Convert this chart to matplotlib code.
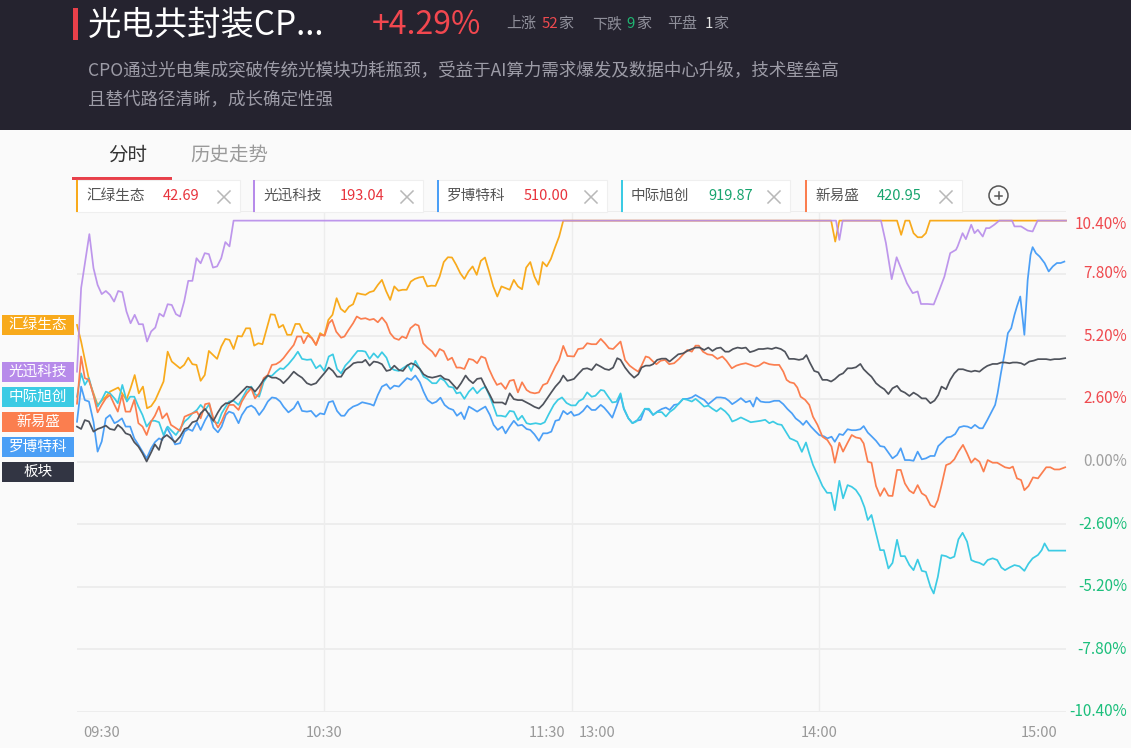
import matplotlib
matplotlib.use("Agg")
import matplotlib.pyplot as plt
from matplotlib.patches import Rectangle, Ellipse
from matplotlib.lines import Line2D
from matplotlib.transforms import blended_transform_factory, offset_copy

plt.rcParams['font.family'] = ['Noto Sans CJK SC', 'DejaVu Sans']

# ---------------- data ----------------
title = "光电共封装CP..."
change_text = "+4.29%"
desc_lines = ["CPO通过光电集成突破传统光模块功耗瓶颈，受益于AI算力需求爆发及数据中心升级，技术壁垒高",
              "且替代路径清晰，成长确定性强"]
counts = [("上涨", "52", "家"), ("下跌", "9", "家"), ("平盘", "1", "家")]
tabs = ["分时", "历史走势"]

names = ["汇绿生态", "光迅科技", "罗博特科", "中际旭创", "新易盛"]
prices = ["42.69", "193.04", "510.00", "919.87", "420.95"]
price_up = [True, True, True, False, False]

ytick_vals = [10.40, 7.80, 5.20, 2.60, 0.00, -2.60, -5.20, -7.80, -10.40]
xtick_min = [0, 60, 120, 120, 180, 240]
xtick_lab = ["09:30", "10:30", "11:30", "13:00", "14:00", "15:00"]

# minutes since 09:30 (trading minutes), percent change
huilv_t = [0, 1, 3, 5, 7, 8, 10, 12, 13, 14, 15, 16, 17, 18, 19, 21, 22, 23, 25, 26, 27, 28, 29, 30, 31, 32, 34,
           35, 36, 37, 38, 39, 40, 41, 42, 43, 44, 45, 47, 48, 49, 50, 51, 52, 53, 54, 55, 56, 57, 58, 59, 60, 61,
           62, 63, 64, 65, 66, 67, 68, 69, 70, 71, 72, 73, 74, 75, 76, 77, 78, 79, 80, 81, 82, 83, 84, 85, 86, 87,
           88, 89, 90, 91, 92, 93, 94, 95, 96, 97, 98, 99, 100, 101, 102, 103, 104, 105, 106, 107, 108, 109, 110,
           111, 112, 113, 114, 115, 116, 117, 118, 183, 184, 185, 199, 200, 201, 202, 203, 204, 205, 206, 207, 240]
huilv_v = [5.67, 4.98, 3.32, 2.35, 2.69, 2.90, 3.07, 2.56, 3.04, 3.59, 2.83, 3.11, 2.21, 2.30, 2.55, 3.32, 4.56,
           4.15, 3.87, 4.01, 4.31, 4.04, 4.01, 3.35, 3.59, 4.59, 4.26, 4.77, 5.09, 5.05, 4.67, 5.21, 5.19, 5.53,
           5.53, 4.81, 4.91, 4.87, 6.11, 6.09, 5.56, 5.67, 5.26, 5.26, 5.71, 5.71, 5.35, 5.33, 5.12, 4.84, 5.33,
           5.22, 5.88, 6.09, 6.78, 6.34, 6.20, 6.43, 6.53, 6.99, 6.95, 6.92, 7.03, 7.08, 7.33, 7.54, 7.08, 6.71,
           7.27, 7.09, 7.13, 7.13, 7.47, 7.58, 7.64, 7.67, 7.27, 7.30, 7.29, 7.68, 8.28, 8.48, 8.47, 8.17, 7.82,
           7.58, 7.89, 8.10, 7.75, 8.33, 8.47, 7.89, 7.27, 6.85, 7.27, 7.20, 7.13, 7.54, 7.27, 7.15, 8.05, 8.28,
           7.68, 7.34, 8.28, 8.10, 8.41, 8.89, 9.34, 10.0, 10.0, 9.13, 10.0, 10.0, 9.41, 10.0, 10.0, 9.48, 9.31,
           9.31, 9.48, 10.0, 10.0]

guangxun_t = [0, 1, 3, 4, 5, 6, 7, 8, 9, 10, 11, 12, 13, 14, 15, 16, 17, 18, 19, 20, 21, 22, 23, 24, 25, 26, 27,
              28, 29, 30, 31, 32, 33, 34, 35, 36, 37, 38, 184.2, 185, 185.8, 195.1, 196.3, 197.7, 198.9, 200.1,
              201.4, 202.8, 204.0, 204.8, 206.4, 207.9, 209.3, 210.5, 211.9, 213.3, 213.7, 214.9, 215.7, 217.0,
              217.8, 218.6, 219.8, 220.6, 221.4, 222.6, 223.8, 226.9, 227.5, 229.1, 230.7, 231.9, 233.1, 240]
guangxun_v = [3.73, 7.20, 9.44, 8.03, 7.33, 6.95, 7.08, 6.92, 6.64, 7.08, 7.03, 6.23, 5.74, 6.09, 5.70, 5.70, 4.98,
              5.40, 5.56, 6.14, 6.02, 6.53, 6.50, 6.12, 6.02, 6.64, 7.50, 7.50, 8.44, 8.23, 8.65, 8.61, 8.05, 8.10,
              8.44, 9.11, 8.93, 10.0, 10.0, 9.2, 10.0, 10.0, 9.07, 7.57, 8.48, 7.96, 7.40, 6.99, 7.06, 6.54, 6.54,
              6.52, 7.13, 7.68, 8.65, 8.79, 8.93, 9.48, 9.23, 9.83, 9.48, 9.62, 9.34, 9.69, 9.69, 9.83, 10.0, 10.0,
              9.76, 9.76, 9.59, 9.55, 10.0, 10.0]

xinyisheng_t = [0, 1, 1.9, 2.9, 4.0, 5.0, 6.0, 7.0, 8.0, 9.1, 9.9, 10.9, 11.8, 12.9, 13.9, 14.9, 15.9, 16.9, 18.0,
                18.9, 19.9, 20.7, 21.8, 22.8, 23.8, 25.0, 26.1, 27.0, 28.0, 29.1, 30.0, 31.1, 32.1, 33.1, 34.2,
                35.1, 36.1, 36.9, 38.0, 39.2, 40.0, 41.2, 42.3, 43.2, 44.2, 45.3, 46.3, 47.3, 48.3, 49.3, 50.1,
                51.3, 52.6, 53.4, 54.4, 55.0, 56.0, 57.0, 58.0, 59.0, 60.1, 61.1, 61.9, 62.9, 64.1, 64.9, 65.9,
                67.0, 67.9, 68.9, 70.0, 71.0, 72.0, 73.0, 74.0, 75.1, 76.0, 77.0, 78.1, 78.9, 79.9, 80.9, 82.1,
                82.9, 84.0, 85.0, 86.2, 87.0, 88.0, 89.0, 90.0, 91.0, 92.1, 93.0, 94.0, 95.1, 96.1, 97.1, 98.1,
                99.1, 99.9, 101.0, 101.9, 102.9, 104.0, 105.0, 106.0, 107.0, 108.0, 109.1, 110.0, 111.1, 112.1,
                113.1, 114.1, 115.1, 116.1, 117.0, 118.0, 119.0, 120.6, 121.6, 122.8, 123.8, 124.9, 126.0, 127.1,
                128.1, 129.1, 130.1, 131.1, 131.9, 133.0, 134.1, 135.2, 136.2, 137.0, 138.0, 138.8, 139.8, 140.6,
                141.6, 142.7, 143.7, 144.9, 146.1, 147.1, 148.1, 149.2, 150.1, 150.9, 151.9, 153.0, 154.2, 155.4,
                156.6, 157.6, 158.9, 160.0, 161.1, 162.3, 163.5, 164.6, 165.5, 166.7, 168.0, 169.2, 170.4, 171.4,
                172.2, 173.0, 174.0, 174.8, 175.6, 176.7, 177.7, 178.6, 179.7, 180.9, 182.1, 183.1, 183.9, 185.0,
                185.9, 187.0, 188.0, 189.0, 190.1, 190.9, 191.9, 192.8, 193.9, 194.9, 195.9, 196.9, 197.9, 199.0,
                199.9, 200.9, 202.0, 203.0, 204.0, 205.0, 206.0, 207.1, 208.1, 208.9, 209.8, 210.9, 211.9, 212.9,
                213.9, 215.0, 216.0, 217.0, 217.9, 219.0, 220.0, 221.0, 222.2, 223.3, 224.3, 225.2, 226.3, 227.1,
                228.1, 229.1, 229.9, 230.9, 232.0, 233.2, 234.1, 235.2, 236.2, 237.2, 238.4, 239.8]
xinyisheng_v = [2.40, 4.36, 3.46, 3.39, 2.76, 2.04, 2.35, 2.62, 2.76, 2.35, 2.07, 2.76, 2.07, 2.07, 2.56, 1.59,
                1.45, 1.10, 1.66, 1.90, 2.28, 1.79, 2.00, 1.52, 1.41, 1.27, 1.86, 1.93, 2.00, 2.07, 1.79, 2.38,
                2.42, 1.79, 1.41, 1.66, 2.07, 2.35, 2.35, 2.14, 2.49, 2.83, 3.04, 2.62, 2.83, 3.46, 3.59, 4.01,
                4.04, 4.15, 4.29, 4.56, 4.84, 5.19, 5.19, 4.91, 5.23, 5.12, 4.84, 5.26, 5.23, 5.74, 5.88, 5.39,
                5.14, 5.19, 5.46, 5.74, 6.02, 5.92, 5.95, 5.88, 5.92, 5.78, 5.98, 5.74, 5.33, 5.12, 5.05, 5.19,
                5.12, 5.53, 5.70, 5.64, 4.91, 4.73, 4.56, 4.36, 4.67, 4.58, 4.21, 4.31, 3.90, 3.90, 3.84, 4.26,
                4.22, 4.08, 4.36, 4.29, 3.87, 3.46, 3.18, 3.25, 3.01, 3.35, 3.39, 2.87, 3.29, 2.97, 2.87, 2.83,
                2.87, 3.18, 3.25, 3.60, 3.95, 4.22, 4.80, 4.38, 4.36, 4.67, 4.70, 4.91, 4.87, 4.87, 5.09, 4.91,
                4.70, 4.67, 4.84, 4.98, 4.21, 3.98, 3.84, 3.73, 3.98, 4.36, 4.32, 4.15, 4.04, 4.18, 4.22, 4.04,
                4.08, 4.26, 4.45, 4.63, 4.56, 4.81, 4.81, 4.56, 4.45, 4.42, 4.26, 4.36, 4.18, 3.87, 3.98, 4.04,
                4.08, 4.01, 3.94, 3.98, 4.12, 4.04, 4.01, 4.01, 3.73, 3.39, 3.29, 3.25, 3.07, 2.69, 2.56, 2.35,
                1.86, 1.52, 1.03, 0.89, 0.62, -0.05, 0.78, 0.41, 0.78, 1.10, 1.00, 0.96, 0.75, -0.01, -0.05,
                -1.02, -1.43, -1.11, -1.42, -1.43, -0.35, -0.35, -0.91, -1.21, -1.32, -0.98, -1.32, -1.43, -1.81,
                -1.90, -1.60, -0.98, -0.15, -0.08, 0.09, 0.41, 0.69, 0.34, -0.05, 0.13, -0.01, -0.42, 0.06, -0.05,
                -0.05, -0.15, -0.24, -0.28, -0.21, -0.70, -0.77, -1.19, -1.02, -0.66, -0.70, -0.49, -0.24, -0.24,
                -0.33, -0.33, -0.24]

zhongji_t = [0, 1, 1.9, 2.9, 4.0, 5.0, 6.0, 7.0, 8.0, 9.1, 9.9, 11.0, 12.1, 12.9, 13.9, 14.9, 15.9, 16.9, 18.0,
             18.9, 19.9, 21.0, 22.0, 23.0, 24.0, 25.0, 26.1, 27.0, 28.0, 29.1, 30.0, 31.1, 32.1, 33.1, 34.2, 35.1,
             36.1, 36.9, 38.0, 39.2, 40.0, 41.2, 42.3, 43.2, 44.2, 45.3, 46.3, 47.3, 48.3, 49.3, 50.1, 51.3, 52.6,
             53.6, 54.6, 55.8, 56.8, 58.0, 59.0, 60.0, 61.1, 62.1, 63.1, 64.1, 65.1, 66.2, 67.0, 68.1, 69.2, 70.0,
             71.0, 72.0, 73.0, 74.0, 75.1, 76.0, 77.0, 78.1, 79.3, 80.3, 81.1, 82.1, 83.2, 84.1, 85.1, 86.2, 87.2,
             88.2, 89.2, 90.2, 91.3, 92.1, 93.0, 94.0, 95.1, 96.1, 97.1, 98.1, 99.1, 100.2, 101.1, 101.9, 102.9,
             104.0, 105.0, 106.0, 107.0, 108.0, 109.1, 110.0, 111.3, 112.5, 113.5, 114.5, 115.7, 116.7, 117.7,
             118.8, 119.9, 121.0, 121.8, 122.8, 123.8, 124.9, 125.8, 127.1, 127.9, 128.9, 129.9, 130.9, 131.9,
             132.7, 133.8, 134.8, 135.7, 136.8, 137.8, 138.8, 139.8, 140.8, 141.9, 142.9, 143.8, 144.9, 145.9,
             147.1, 148.1, 149.2, 150.1, 151.1, 152.2, 153.2, 154.2, 155.2, 156.2, 157.3, 158.2, 159.0, 160.0,
             161.1, 162.3, 163.5, 164.7, 165.9, 167.0, 168.0, 168.9, 170.0, 171.0, 172.0, 173.0, 174.0, 174.8,
             175.9, 176.9, 177.7, 178.6, 179.9, 180.9, 182.0, 183.0, 183.9, 185.0, 185.9, 187.0, 188.0, 189.0,
             190.1, 191.1, 191.9, 192.8, 193.9, 194.9, 195.8, 196.9, 197.9, 199.0, 199.9, 200.9, 202.0, 203.0,
             204.0, 205.0, 206.0, 207.1, 207.9, 208.9, 209.8, 210.9, 211.9, 212.9, 213.9, 214.9, 216.0, 217.0,
             217.9, 219.0, 220.0, 221.0, 222.2, 223.3, 224.3, 225.2, 226.3, 227.5, 228.7, 229.9, 230.9, 231.9,
             233.2, 234.1, 234.8, 235.8, 236.8, 239.8]
zhongji_v = [2.69, 3.66, 3.18, 3.46, 2.76, 2.28, 2.56, 2.90, 2.83, 2.62, 2.42, 3.18, 2.49, 2.69, 2.69, 2.28, 1.93,
             1.45, 1.69, 1.69, 1.63, 1.10, 1.45, 1.27, 1.10, 1.35, 1.66, 1.79, 2.00, 2.14, 2.35, 2.14, 2.38, 1.66,
             1.59, 2.00, 2.28, 2.49, 2.52, 2.35, 2.60, 2.97, 3.11, 2.79, 2.69, 3.31, 3.56, 3.56, 3.73, 3.87, 3.84,
             4.04, 4.31, 4.56, 4.26, 4.22, 4.24, 3.87, 4.00, 3.76, 4.36, 4.45, 3.84, 3.66, 3.98, 4.18, 4.36, 4.59,
             4.59, 4.56, 4.26, 4.49, 4.31, 4.54, 4.31, 3.90, 3.80, 3.76, 3.90, 4.01, 3.76, 4.18, 3.84, 3.52, 3.42,
             3.25, 3.25, 3.46, 3.35, 3.11, 3.07, 2.83, 2.87, 2.60, 2.90, 3.07, 2.83, 3.01, 3.11, 2.69, 2.28, 1.90,
             1.90, 1.86, 2.10, 2.07, 1.72, 1.90, 1.59, 1.55, 1.59, 1.55, 1.63, 1.97, 2.35, 2.56, 2.66, 2.43, 2.33,
             2.33, 2.51, 2.60, 2.87, 2.69, 2.73, 2.97, 2.94, 2.69, 2.45, 2.48, 2.83, 2.21, 1.80, 1.59, 1.66, 1.91,
             2.19, 2.19, 1.94, 2.05, 2.05, 1.87, 2.05, 2.19, 2.38, 2.60, 2.56, 2.49, 2.60, 2.46, 2.28, 2.32, 2.19,
             2.08, 2.22, 2.08, 1.91, 1.66, 1.73, 1.83, 1.73, 1.63, 1.66, 1.69, 1.73, 1.59, 1.66, 1.55, 1.52, 1.24,
             0.96, 0.89, 0.82, 0.40, 0.79, 0.33, -0.14, -0.63, -1.02, -1.30, -1.30, -2.02, -0.80, -1.53, -0.98,
             -1.05, -1.18, -1.46, -1.90, -2.43, -2.22, -2.99, -3.68, -3.68, -4.44, -4.21, -3.25, -3.93, -3.93,
             -4.30, -4.51, -4.07, -4.54, -4.58, -5.20, -5.48, -4.79, -3.89, -3.93, -4.02, -3.95, -3.23, -2.96,
             -3.33, -4.09, -4.16, -4.21, -4.30, -4.09, -4.02, -4.09, -4.40, -4.51, -4.40, -4.30, -4.35, -4.54,
             -4.24, -4.02, -3.88, -3.68, -3.40, -3.70, -3.70, -3.70]

luobo_t = [0, 1, 1.9, 2.9, 4.0, 5.0, 6.0, 7.0, 8.0, 9.1, 9.9, 10.9, 11.8, 12.9, 13.9, 14.9, 15.9, 16.9, 18.0, 18.9,
           19.9, 20.7, 21.8, 22.8, 23.8, 25.0, 26.1, 27.0, 28.0, 29.1, 30.0, 31.1, 32.1, 33.1, 34.2, 35.1, 36.1,
           36.9, 38.0, 39.2, 40.0, 41.2, 42.3, 43.2, 44.2, 45.3, 46.3, 47.3, 48.3, 49.3, 50.1, 51.3, 52.6, 53.6,
           54.6, 55.8, 56.8, 58.0, 59.0, 60.0, 61.1, 62.1, 63.1, 64.1, 64.9, 65.9, 67.0, 68.1, 69.2, 70.2, 71.2,
           72.0, 73.0, 74.0, 75.1, 76.0, 77.0, 78.1, 79.1, 80.1, 81.1, 82.1, 83.2, 84.1, 85.1, 86.2, 87.2, 88.2,
           89.2, 90.2, 91.3, 92.2, 93.2, 94.0, 95.1, 96.1, 97.1, 98.1, 99.1, 100.2, 101.1, 102.1, 103.2, 104.0,
           105.0, 106.0, 107.0, 108.0, 109.1, 110.0, 111.0, 112.1, 113.1, 114.1, 115.1, 116.1, 117.0, 118.0,
           119.0, 119.9, 120.6, 121.8, 122.8, 123.8, 124.9, 125.8, 127.1, 127.9, 128.9, 129.9, 130.9, 131.9,
           132.7, 133.8, 134.8, 135.7, 136.8, 137.8, 138.8, 139.8, 140.8, 141.9, 142.9, 143.8, 144.9, 145.9,
           147.1, 148.1, 149.2, 150.1, 151.1, 152.2, 153.2, 154.2, 155.2, 156.2, 157.3, 158.2, 159.0, 160.0,
           161.1, 162.3, 163.3, 164.1, 164.9, 165.9, 167.0, 168.0, 169.2, 170.4, 171.4, 172.4, 173.5, 174.4,
           175.4, 176.2, 177.0, 178.1, 179.1, 180.1, 181.2, 182.1, 183.1, 183.9, 185.0, 185.9, 187.0, 188.0,
           189.0, 190.1, 190.9, 191.9, 192.8, 193.9, 194.9, 195.9, 196.9, 197.9, 199.0, 199.9, 200.9, 202.0,
           203.0, 204.0, 205.0, 206.0, 207.1, 208.1, 209.0, 210.1, 211.1, 212.1, 213.1, 214.1, 215.2, 216.1,
           217.0, 217.9, 219.0, 219.8, 220.9, 221.8, 222.8, 223.4, 224.2, 225.1, 225.9, 226.7, 227.5, 228.1,
           228.9, 229.9, 230.7, 231.4, 231.9, 232.7, 233.6, 234.8, 235.8, 236.8, 237.8, 238.7, 239.6]
luobo_v = [1.65, 3.11, 2.55, 2.49, 1.65, 0.41, 0.83, 1.79, 1.93, 1.59, 1.66, 1.79, 1.45, 1.45, 0.96, 0.69, 0.41,
           0.13, 0.55, 0.80, 0.96, 0.89, 1.41, 1.10, 0.71, 0.76, 1.24, 1.35, 1.27, 1.63, 1.31, 1.72, 2.00, 1.41,
           1.21, 1.45, 1.93, 2.07, 2.00, 1.59, 1.93, 2.24, 2.32, 2.21, 1.93, 2.18, 2.49, 2.66, 2.63, 2.49, 2.28,
           2.04, 2.21, 2.49, 2.10, 2.07, 2.10, 1.86, 2.00, 1.96, 2.46, 2.51, 2.10, 1.90, 1.90, 2.14, 2.28, 2.35,
           2.46, 2.42, 2.38, 2.32, 2.76, 3.11, 3.21, 3.01, 3.15, 3.11, 3.29, 3.46, 3.39, 3.57, 3.29, 2.90, 2.55,
           2.41, 2.48, 2.65, 2.35, 2.21, 2.14, 1.90, 2.04, 1.76, 2.28, 2.18, 2.07, 2.18, 2.28, 1.93, 1.52, 1.31,
           1.45, 1.17, 1.45, 1.69, 1.49, 1.52, 1.35, 1.31, 1.13, 0.86, 1.17, 1.17, 1.24, 1.69, 1.73, 2.10, 1.96,
           2.07, 1.90, 1.96, 2.10, 2.32, 2.14, 2.14, 2.35, 2.24, 2.04, 1.82, 2.28, 2.76, 2.18, 1.79, 1.59, 1.69,
           1.73, 2.19, 2.14, 1.93, 2.07, 2.18, 2.24, 2.14, 2.35, 2.38, 2.60, 2.60, 2.66, 2.76, 2.66, 2.56, 2.38,
           2.52, 2.66, 2.66, 2.63, 2.52, 2.38, 2.49, 2.63, 2.46, 2.52, 2.28, 2.66, 2.49, 2.46, 2.46, 2.52, 2.52,
           2.38, 2.18, 2.00, 1.79, 1.66, 1.52, 1.69, 1.45, 1.27, 1.10, 1.05, 0.96, 1.03, 0.82, 1.14, 1.10, 1.34,
           1.30, 1.30, 1.34, 1.47, 1.20, 1.05, 0.86, 0.64, 0.61, 0.37, 0.13, 0.27, 0.55, 0.06, 0.06, 0.03, 0.41,
           0.09, 0.13, 0.23, 0.23, 0.64, 0.82, 1.00, 1.03, 1.14, 1.42, 1.47, 1.45, 1.38, 1.52, 1.38, 1.38, 1.72,
           2.02, 2.35, 2.83, 3.66, 4.49, 5.33, 5.53, 6.09, 6.44, 6.85, 5.26, 7.54, 8.58, 8.90, 8.65, 8.51, 8.24,
           7.89, 8.10, 8.24, 8.24, 8.30]

bankuai_t = [0, 1, 1.9, 2.9, 4.0, 5.0, 6.0, 7.0, 8.0, 9.1, 9.9, 10.9, 11.8, 12.9, 13.9, 14.9, 15.9, 16.9, 18.0,
             18.9, 19.9, 20.7, 21.8, 22.8, 23.8, 25.0, 26.1, 27.0, 28.0, 29.1, 30.0, 31.1, 32.1, 33.1, 34.2, 35.1,
             36.1, 36.9, 38.0, 39.2, 40.0, 41.2, 42.3, 43.2, 44.2, 45.3, 46.3, 47.3, 48.3, 49.3, 50.1, 51.3, 52.6,
             53.6, 54.6, 55.8, 56.8, 58.0, 59.0, 60.0, 61.1, 62.1, 63.1, 64.1, 65.1, 66.2, 67.1, 68.1, 69.2, 70.0,
             71.0, 72.0, 73.0, 74.0, 75.1, 76.0, 77.0, 78.1, 79.1, 80.1, 81.1, 82.1, 83.2, 84.1, 85.1, 86.2, 87.2,
             88.2, 89.2, 90.2, 91.3, 92.2, 93.2, 94.3, 95.1, 96.1, 97.1, 98.1, 99.1, 100.2, 101.1, 102.1, 103.2,
             104.0, 105.0, 106.0, 107.0, 108.0, 109.1, 110.0, 111.0, 112.1, 113.1, 114.1, 115.1, 116.1, 117.2,
             118.0, 119.0, 119.9, 120.6, 121.8, 122.8, 123.8, 124.9, 126.0, 127.1, 128.1, 129.1, 130.1, 131.1,
             131.9, 133.0, 134.1, 135.2, 136.2, 137.0, 138.0, 139.0, 139.8, 140.8, 141.9, 142.9, 143.8, 144.9,
             145.9, 147.1, 148.1, 149.2, 150.1, 151.1, 152.2, 153.2, 154.2, 155.2, 156.2, 157.3, 158.2, 159.2,
             160.3, 161.3, 162.3, 163.3, 164.3, 165.4, 166.5, 167.6, 168.6, 169.6, 170.8, 171.8, 172.8, 174.0,
             175.2, 176.2, 177.0, 177.8, 178.9, 179.9, 180.9, 182.0, 183.0, 183.9, 185.0, 185.9, 187.0, 188.0,
             189.0, 190.1, 190.9, 191.9, 192.8, 193.9, 194.9, 195.9, 196.9, 197.9, 199.0, 199.9, 200.9, 202.0,
             203.0, 204.0, 205.0, 206.0, 207.1, 208.1, 209.0, 209.8, 210.9, 211.9, 212.9, 213.9, 215.0, 216.0,
             217.0, 217.9, 219.0, 220.0, 220.9, 222.2, 223.3, 224.3, 225.2, 226.3, 227.1, 228.1, 229.1, 229.9,
             231.1, 232.2, 233.2, 234.1, 235.2, 236.2, 237.2, 238.4, 239.8]
bankuai_v = [1.45, 1.35, 1.72, 1.66, 1.24, 1.35, 1.41, 1.49, 1.35, 1.31, 1.52, 1.38, 1.17, 1.10, 0.80, 0.62, 0.34,
             0.00, 0.38, 0.71, 0.48, 0.96, 1.10, 0.96, 0.80, 1.03, 1.35, 1.41, 1.63, 1.69, 2.00, 2.18, 1.93, 1.69,
             2.04, 2.28, 2.42, 2.42, 2.56, 2.76, 2.90, 3.11, 3.07, 2.90, 3.11, 3.39, 3.57, 3.48, 3.48, 3.39, 3.25,
             3.46, 3.73, 3.59, 3.48, 3.25, 3.18, 3.25, 3.46, 3.66, 3.90, 3.76, 3.52, 3.52, 3.80, 3.94, 4.08, 4.12,
             4.12, 4.22, 3.98, 4.15, 4.12, 4.04, 3.76, 3.80, 3.98, 3.80, 3.76, 3.98, 4.08, 4.01, 3.84, 3.62, 3.52,
             3.48, 3.52, 3.57, 3.43, 3.39, 3.18, 3.01, 3.25, 3.57, 3.39, 3.25, 3.43, 3.46, 3.11, 2.76, 2.45, 2.45,
             2.45, 2.37, 2.83, 2.59, 2.55, 2.55, 2.45, 2.37, 2.27, 2.20, 2.37, 2.62, 2.87, 3.11, 3.32, 3.57, 3.35,
             3.39, 3.43, 3.66, 3.84, 3.87, 3.80, 4.04, 3.94, 3.84, 3.80, 3.90, 4.29, 4.22, 3.90, 3.66, 3.48, 3.62,
             3.90, 3.98, 3.98, 4.04, 4.22, 4.27, 4.27, 4.15, 4.31, 4.45, 4.49, 4.59, 4.67, 4.73, 4.73, 4.63, 4.73,
             4.59, 4.70, 4.73, 4.56, 4.56, 4.67, 4.73, 4.70, 4.73, 4.54, 4.59, 4.67, 4.67, 4.70, 4.67, 4.73, 4.67,
             4.56, 4.26, 4.26, 4.22, 4.26, 4.42, 4.12, 3.76, 3.70, 3.39, 3.39, 3.32, 3.42, 3.59, 3.66, 3.87, 3.87,
             3.91, 4.05, 3.83, 3.66, 3.52, 3.25, 3.11, 3.00, 2.80, 3.04, 3.14, 2.94, 2.86, 2.72, 2.86, 2.76, 2.62,
             2.62, 2.42, 2.53, 2.76, 3.11, 3.00, 3.39, 3.66, 3.83, 3.83, 3.77, 3.73, 3.77, 3.73, 3.87, 3.97, 4.05,
             4.05, 4.11, 4.11, 4.08, 4.11, 4.11, 4.08, 4.01, 4.15, 4.19, 4.25, 4.25, 4.25, 4.22, 4.25, 4.25, 4.29]

# ---------------- styling ----------------
W, H = 1131, 748
C_YEL, C_PUR, C_BLU, C_CYA, C_ORA, C_GRY = '#f8aa1c', '#b78bea', '#4b9ff6', '#3ccbe4', '#fb7e4f', '#4f535c'
RED, GREEN, ZERO = '#ef4a4f', '#1cbf7c', '#a0a0a0'

fig = plt.figure(figsize=(W / 100, H / 100), dpi=100)
fig.patch.set_facecolor('#fafafa')


def fx(x):
    return x / W


def fy(y):
    return 1 - y / H


def frect(x0, y0, x1, y1, **kw):
    r = Rectangle((fx(x0), fy(y1)), (x1 - x0) / W, (y1 - y0) / H, transform=fig.transFigure, **kw)
    fig.add_artist(r)
    return r


def ftext(x, y, s, **kw):
    return fig.text(fx(x), fy(y), s, **kw)


def fline(xs, ys, **kw):
    fig.add_artist(Line2D([fx(x) for x in xs], [fy(y) for y in ys], transform=fig.transFigure, **kw))


# header
frect(0, 0, W, 130, facecolor='#25232f', edgecolor='none', zorder=0)
frect(73, 8, 78, 40, facecolor='#e8404a', edgecolor='none', zorder=1)
ftext(88, 25, title, color='white', fontsize=24, va='center', ha='left')
ftext(372, 25, change_text, color='#f2474f', fontsize=23, va='center', ha='left')
cx = [(506, 542, 558), (592, 626, 636), (667, 705, 713)]
ccol = [RED, '#1fb874', '#e6e6e6']
for (a, b, c), (x1, x2, x3), col in zip(counts, cx, ccol):
    ftext(x1, 24, a, color='#8f8f9a', fontsize=10.8, va='center')
    ftext(x2, 24, b, color=col, fontsize=10.8, va='center')
    ftext(x3, 24, c, color='#8f8f9a', fontsize=10.8, va='center')
ftext(88, 71, desc_lines[0], color='#9d9ca7', fontsize=12.6, va='center')
ftext(88, 100, desc_lines[1], color='#9d9ca7', fontsize=12.6, va='center')

# tabs
ftext(128, 155, tabs[0], color='#333333', fontsize=14, va='center', ha='center')
ftext(190, 155, tabs[1], color='#9a9a9a', fontsize=14, va='center', ha='left')
frect(72, 177, 172, 179.5, facecolor='#e8404a', edgecolor='none')

# legend boxes
box_x = [(76, 240), (253, 423), (437, 607), (621, 790), (805, 962)]
leg_cols = [C_YEL, C_PUR, C_BLU, C_CYA, C_ORA]
for (x0, x1), nm, pr, up, col in zip(box_x, names, prices, price_up, leg_cols):
    frect(x0, 180, x1, 212, facecolor='white', edgecolor='#efefef', linewidth=0.8, zorder=2)
    frect(x0, 180, x0 + 2, 212, facecolor=col, edgecolor='none', zorder=3)
    ftext(x0 + 10, 196, nm, color='#555555', fontsize=10.5, va='center', zorder=4)
    ftext(x0 + 87 if len(nm) == 4 else x0 + 72, 196, pr, color=('#e8333c' if up else '#17a46e'),
          fontsize=10.5, va='center', zorder=4)
    xc = x1 - 16
    fline([xc - 6, xc + 6], [191, 203], color='#b8b8b8', lw=1.1, zorder=4)
    fline([xc - 6, xc + 6], [203, 191], color='#b8b8b8', lw=1.1, zorder=4)
fig.add_artist(Ellipse((fx(998.5), fy(195.5)), 19 / W, 19 / H, transform=fig.transFigure, facecolor='none',
                       edgecolor='#555555', linewidth=1.1))
fline([995, 1002], [195.5, 195.5], color='#555555', lw=1.1)
fline([998.5, 998.5], [192, 199], color='#555555', lw=1.1)

# chart axes
ax = fig.add_axes([fx(77), fy(712), (1066 - 77) / W, (712 - 211) / H])
ax.set_facecolor('none')
ax.set_xlim(0, 240)
ax.set_ylim(-10.4, 10.4)
for s in ax.spines.values():
    s.set_visible(False)
ax.set_xticks([])
ax.set_yticks([])
for v in ytick_vals:
    ax.axhline(v, color='#ededed', lw=1.4, zorder=0)
for m in sorted(set(xtick_min[1:-1])):
    ax.axvline(m, color='#ededed', lw=1.0, zorder=0)

series = [
    (huilv_t, huilv_v, C_YEL, 1.0),
    (guangxun_t, guangxun_v, C_PUR, 0.9),
    (luobo_t, luobo_v, C_BLU, 1.0),
    (zhongji_t, zhongji_v, C_CYA, 1.0),
    (xinyisheng_t, xinyisheng_v, C_ORA, 1.0),
    (bankuai_t, bankuai_v, C_GRY, 1.0),
]
for t, v, c, a in series:
    ax.plot(t, v, color=c, lw=1.25, alpha=a, solid_joinstyle='round', clip_on=False, zorder=3)

# right axis labels
ty = blended_transform_factory(fig.transFigure, ax.transData)
for i, v in enumerate(ytick_vals):
    col = RED if v > 0 else (GREEN if v < 0 else ZERO)
    if i == 0:
        tr = offset_copy(ty, fig=fig, y=-5, units='dots')
        va = 'top'
    else:
        tr = ty
        va = 'center'
    ax.text(fx(1127), v, f"{v:.2f}%", transform=tr, ha='right', va=va, color=col, fontsize=11,
            clip_on=False)

# x axis labels
tx = blended_transform_factory(ax.transData, fig.transFigure)
offs = [6, 0, -6, 7, 0, -8]
has = ['left', 'center', 'right', 'left', 'center', 'right']
for m, lab, dx, ha in zip(xtick_min, xtick_lab, offs, has):
    ax.text(m, fy(733), lab, transform=offset_copy(tx, fig=fig, x=dx, units='dots'), ha=ha, va='center',
            color='#999999', fontsize=10.5, clip_on=False)

# left labels at series start values, pushed apart
lab_names = ["汇绿生态", "光迅科技", "中际旭创", "新易盛", "罗博特科", "板块"]
lab_start = [huilv_v[0], guangxun_v[0], zhongji_v[0], xinyisheng_v[0], luobo_v[0], bankuai_v[0]]
lab_cols = [C_YEL, C_PUR, C_CYA, C_ORA, C_BLU, '#323543']
order = sorted(range(len(lab_names)), key=lambda i: -lab_start[i])
prev = None
for i in order:
    ypx = H - ax.transData.transform((0, lab_start[i]))[1]
    if prev is not None and ypx < prev + 25:
        ypx = prev + 25
    prev = ypx
    frect(2, ypx - 10, 74, ypx + 10, facecolor=lab_cols[i], edgecolor='none', zorder=5)
    ftext(38, ypx, lab_names[i], color='white', fontsize=10.5, ha='center', va='center', zorder=6)

fig.savefig('out.png', dpi=100, facecolor=fig.get_facecolor())
